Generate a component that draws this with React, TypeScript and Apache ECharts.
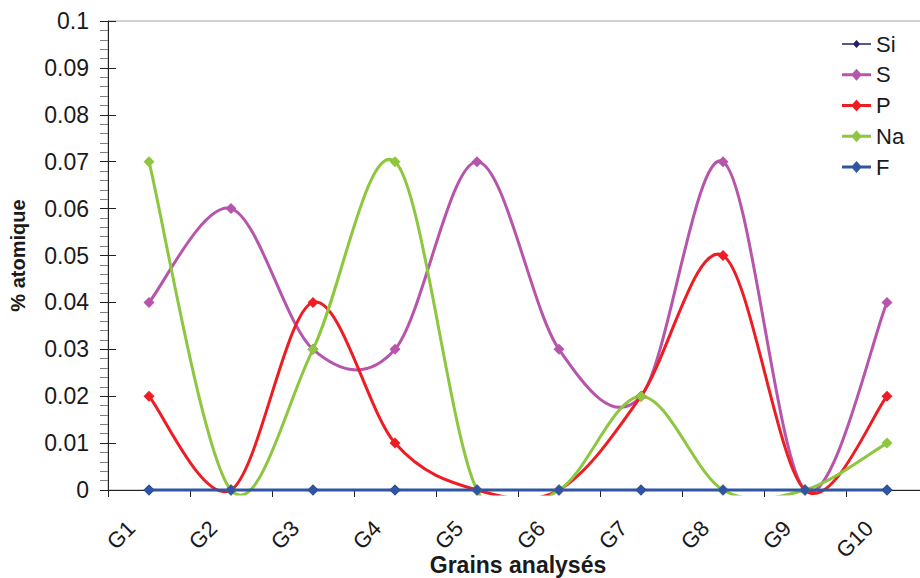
import React, { useEffect, useRef } from "react";
import * as echarts from "echarts";

const categories = ["G1", "G2", "G3", "G4", "G5", "G6", "G7", "G8", "G9", "G10"];
const siValues = [0, 0, 0, 0, 0, 0, 0, 0, 0, 0];
const sValues = [0.04, 0.06, 0.03, 0.03, 0.07, 0.03, 0.02, 0.07, 0, 0.04];
const pValues = [0.02, 0, 0.04, 0.01, 0, 0, 0.02, 0.05, 0, 0.02];
const naValues = [0.07, 0, 0.03, 0.07, 0, 0, 0.02, 0, 0, 0.01];
const fValues = [0, 0, 0, 0, 0, 0, 0, 0, 0, 0];
const yTicks = { min: 0, max: 0.1, interval: 0.01 };

const FONT = "Liberation Sans, Arial, sans-serif";

const ICON_THICK =
  "path://M0,4.6 L10.5,4.6 L14.5,0 L18.5,4.6 L29,4.6 L29,7.4 L18.5,7.4 L14.5,12 L10.5,7.4 L0,7.4 Z";
const ICON_THIN =
  "path://M0,5.3 L11.5,5.3 L14.5,2 L17.5,5.3 L29,5.3 L29,6.7 L17.5,6.7 L14.5,10 L11.5,6.7 L0,6.7 Z";

export default function App() {
  const ref = useRef<HTMLDivElement>(null);
  useEffect(() => {
    if (!ref.current) return;
    const chart = echarts.init(ref.current, undefined, { renderer: "svg" });

    // Excel-like smooth curve (Catmull-Rom style Bezier), drawn through the axes' coordinates
    const curve = (name: string, values: number[], color: string, width: number) => ({
      name: name + "-curve",
      type: "custom",
      clip: false,
      silent: true,
      data: values.map((v, i) => [i, v]),
      encode: { x: 0, y: 1 },
      renderItem: (params: any, api: any) => {
        if (params.dataIndex !== 0) return null;
        const pts = values.map((v, i) => api.coord([i, v]));
        const n = pts.length;
        const tan = (i: number) => {
          const a = pts[Math.max(0, i - 1)];
          const b = pts[Math.min(n - 1, i + 1)];
          return [(b[0] - a[0]) / 6, (b[1] - a[1]) / 6];
        };
        let d = `M${pts[0][0]},${pts[0][1]}`;
        for (let i = 0; i < n - 1; i++) {
          const t0 = tan(i);
          const t1 = tan(i + 1);
          const p0 = pts[i];
          const p1 = pts[i + 1];
          d += ` C${p0[0] + t0[0]},${p0[1] + t0[1]} ${p1[0] - t1[0]},${p1[1] - t1[1]} ${p1[0]},${p1[1]}`;
        }
        const cs = params.coordSys;
        const zeroY = api.coord([0, 0])[1];
        return {
          type: "path",
          shape: { pathData: d },
          clipPath: {
            type: "rect",
            shape: { x: cs.x - 20, y: cs.y - 20, width: cs.width + 40, height: zeroY + 5.5 - (cs.y - 20) },
          },
          style: { fill: "none", stroke: color, lineWidth: width, lineJoin: "round" },
        };
      },
    });
    const markers = (name: string, values: number[], color: string) => ({
      name,
      type: "scatter",
      data: values,
      symbol: "diamond",
      symbolSize: 11,
      itemStyle: { color, opacity: 1 },
    });

    const colors = {
      Si: "#1f1f6e",
      S: "#b655ab",
      P: "#ee1d23",
      Na: "#8dc63f",
      F: "#2f55a4",
    };

    chart.setOption({
      animation: false,
      textStyle: { fontFamily: FONT },
      grid: {
        left: 108,
        top: 21,
        width: 820,
        height: 469,
        show: true,
        borderColor: "#a6a6a6",
        borderWidth: 1,
        containLabel: false,
        outerBoundsMode: "none",
      },
      legend: {
        orient: "vertical",
        left: 837,
        top: 28,
        itemWidth: 29,
        itemHeight: 12,
        itemGap: 8.75,
        textStyle: { fontFamily: FONT, fontSize: 22, color: "#1a1a1a", lineHeight: 22 },
        data: [
          { name: "Si", icon: ICON_THIN },
          { name: "S", icon: ICON_THICK },
          { name: "P", icon: ICON_THICK },
          { name: "Na", icon: ICON_THICK },
          { name: "F", icon: ICON_THICK },
        ],
      },
      xAxis: {
        type: "category",
        data: categories,
        boundaryGap: true,
        name: "Grains analysés",
        nameLocation: "middle",
        nameGap: 63,
        nameMoveOverlap: false,
        nameTextStyle: { fontFamily: FONT, fontSize: 23, fontWeight: "bold", color: "#1a1a1a" },
        axisLine: { show: true, lineStyle: { color: "#222", width: 1 } },
        axisTick: { show: true, inside: false, length: 7, lineStyle: { color: "#222" } },
        axisLabel: {
          rotate: 45,
          margin: 17,
          padding: [0, 25, 0, 0],
          fontSize: 22,
          fontFamily: FONT,
          color: "#1a1a1a",
          interval: 0,
        },
        splitLine: { show: false },
      },
      yAxis: [
        {
          type: "value",
          min: yTicks.min,
          max: yTicks.max,
          interval: yTicks.interval,
          name: "% atomique",
          nameLocation: "middle",
          nameGap: 80,
          nameRotate: 90,
          nameMoveOverlap: false,
          nameTextStyle: { fontFamily: FONT, fontSize: 20, fontWeight: "bold", color: "#1a1a1a" },
          axisLine: { show: true, lineStyle: { color: "#222", width: 1 } },
          axisTick: { show: true, inside: false, length: 8, lineStyle: { color: "#222" } },
          minorTick: { show: true, splitNumber: 5, length: 8, lineStyle: { color: "#808080" } },
          axisLabel: {
            margin: 19,
            fontSize: 23,
            fontFamily: FONT,
            color: "#1a1a1a",
            formatter: (v: number) => String(+v.toFixed(2)),
          },
          splitLine: { show: false },
        },
        {
          type: "value",
          position: "left",
          min: yTicks.min,
          max: yTicks.max,
          interval: yTicks.interval,
          axisLine: { show: false },
          axisTick: { show: true, inside: true, length: 8, lineStyle: { color: "#222" } },
          axisLabel: { show: false },
          splitLine: { show: false },
        },
      ],
      series: [
        curve("Si", siValues, colors.Si, 2),
        markers("Si", siValues, colors.Si),
        curve("S", sValues, colors.S, 3),
        markers("S", sValues, colors.S),
        curve("P", pValues, colors.P, 3),
        markers("P", pValues, colors.P),
        curve("Na", naValues, colors.Na, 3),
        markers("Na", naValues, colors.Na),
        curve("F", fValues, colors.F, 3),
        markers("F", fValues, colors.F),
      ],
    });
    return () => chart.dispose();
  }, []);
  return (
    <div
      ref={ref}
      style={{ position: "fixed", left: 0, top: 0, width: 920, height: 578, background: "#fff" }}
    />
  );
}
